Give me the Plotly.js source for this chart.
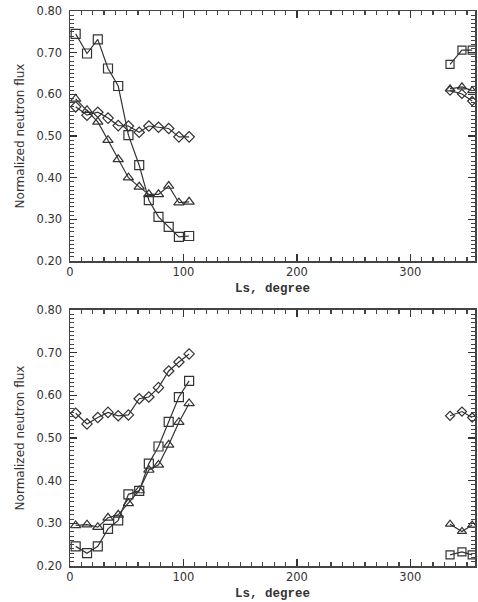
<!DOCTYPE html>
<html>
<head>
<meta charset="utf-8">
<script src="https://cdn.plot.ly/plotly-3.0.1.min.js"></script>
<style>html,body{margin:0;padding:0;background:#fff;}#chart{width:478px;height:602px;}</style>
</head>
<body>
<div id="chart"></div>
<script>
// Ls bins (degrees)
const ls = [5, 15, 24.5, 33.5, 42.5, 51.5, 61, 69.5, 78, 87, 96, 105];
const lsLate = [335, 345.5, 354.5];

// Top panel
const sqTop = [0.745, 0.698, 0.732, 0.662, 0.620, 0.502, 0.430, 0.346, 0.306, 0.282, 0.258, 0.260];
const sqTopLate = [0.672, 0.706, 0.706];
const triTop = [0.589, 0.562, 0.534, 0.490, 0.444, 0.400, 0.378, 0.360, 0.360, 0.380, 0.340, 0.342];
const triTopLate = [0.613, 0.618, 0.609];
const diaTop = [0.570, 0.550, 0.557, 0.543, 0.525, 0.524, 0.509, 0.524, 0.521, 0.518, 0.498, 0.498];
const diaTopLate = [0.609, 0.601, 0.584];

// Bottom panel
const sqBot = [0.246, 0.230, 0.246, 0.287, 0.307, 0.368, 0.376, 0.440, 0.480, 0.538, 0.596, 0.634];
const sqBotLate = [0.226, 0.233, 0.226];
const triBot = [0.295, 0.297, 0.291, 0.313, 0.320, 0.347, 0.377, 0.425, 0.437, 0.484, 0.537, 0.581];
const triBotLate = [0.298, 0.281, 0.296];
const diaBot = [0.558, 0.533, 0.548, 0.560, 0.552, 0.554, 0.592, 0.596, 0.618, 0.657, 0.678, 0.697];
const diaBotLate = [0.552, 0.562, 0.548];

const xTitle = 'Ls, degree';
const yTitle = 'Normalized neutron flux';

const ink = '#333';
function tr(x, y, sym, size, xa, ya) {
  return {
    x: x, y: y, xaxis: xa, yaxis: ya, type: 'scatter', mode: 'lines+markers',
    line: {color: ink, width: 1.2},
    marker: {symbol: sym, size: size, color: ink, line: {color: ink, width: 1.2}},
    showlegend: false, hoverinfo: 'skip', cliponaxis: false
  };
}

const data = [
  tr(ls, sqTop, 'square-open', 9, 'x', 'y'),
  tr(lsLate, sqTopLate, 'square-open', 8, 'x', 'y'),
  tr(ls, triTop, 'triangle-up-open', 9, 'x', 'y'),
  tr(lsLate, triTopLate, 'triangle-up-open', 8, 'x', 'y'),
  tr(ls, diaTop, 'diamond-open', 8, 'x', 'y'),
  tr(lsLate, diaTopLate, 'diamond-open', 7, 'x', 'y'),
  tr(ls, sqBot, 'square-open', 9, 'x2', 'y2'),
  tr(lsLate, sqBotLate, 'square-open', 8, 'x2', 'y2'),
  tr(ls, triBot, 'triangle-up-open', 9, 'x2', 'y2'),
  tr(lsLate, triBotLate, 'triangle-up-open', 8, 'x2', 'y2'),
  tr(ls, diaBot, 'diamond-open', 8, 'x2', 'y2'),
  tr(lsLate, diaBotLate, 'diamond-open', 7, 'x2', 'y2')
];

const tickFont = {family: 'DejaVu Sans', size: 11.5, color: ink};
function xax(anchor) {
  return {
    anchor: anchor, domain: [0, 1], range: [0, 357],
    tickmode: 'linear', tick0: 0, dtick: 100,
    ticks: 'inside', ticklen: 7, tickwidth: 1.3, tickcolor: '#333',
    minor: {tickmode: 'linear', tick0: 0, dtick: 10, ticks: 'inside', ticklen: 4, tickwidth: 1.2, tickcolor: '#444', showgrid: false},
    showline: true, linecolor: '#444', linewidth: 1.5, mirror: 'allticks',
    showgrid: false, zeroline: false, tickfont: tickFont,
    title: {text: xTitle, font: {family: 'Liberation Mono', size: 12.5, color: ink, weight: 'bold'}, standoff: 5}
  };
}
function yax(anchor, domain) {
  return {
    anchor: anchor, domain: domain, range: [0.2, 0.8],
    tickmode: 'linear', tick0: 0.2, dtick: 0.1, tickformat: '.2f',
    ticks: 'inside', ticklen: 7, tickwidth: 1.3, tickcolor: '#333',
    minor: {tickmode: 'linear', tick0: 0.2, dtick: 0.01, ticks: 'inside', ticklen: 4, tickwidth: 1, tickcolor: '#444', showgrid: false},
    showline: true, linecolor: '#444', linewidth: 1.5, mirror: 'allticks',
    showgrid: false, zeroline: false, tickfont: tickFont, ticklabelstandoff: 4,
    title: {text: yTitle, font: {family: 'DejaVu Sans', size: 12, color: ink}, standoff: 9}
  };
}

const layout = {
  width: 478, height: 602,
  margin: {l: 70, r: 3, t: 11, b: 36},
  paper_bgcolor: '#fff', plot_bgcolor: '#fff',
  xaxis: xax('y'),
  yaxis: yax('x', [0.5495, 1]),
  xaxis2: xax('y2'),
  yaxis2: yax('x2', [0, 0.4613])
};

Plotly.newPlot('chart', data, layout, {staticPlot: true, displayModeBar: false});
</script>
</body>
</html>
